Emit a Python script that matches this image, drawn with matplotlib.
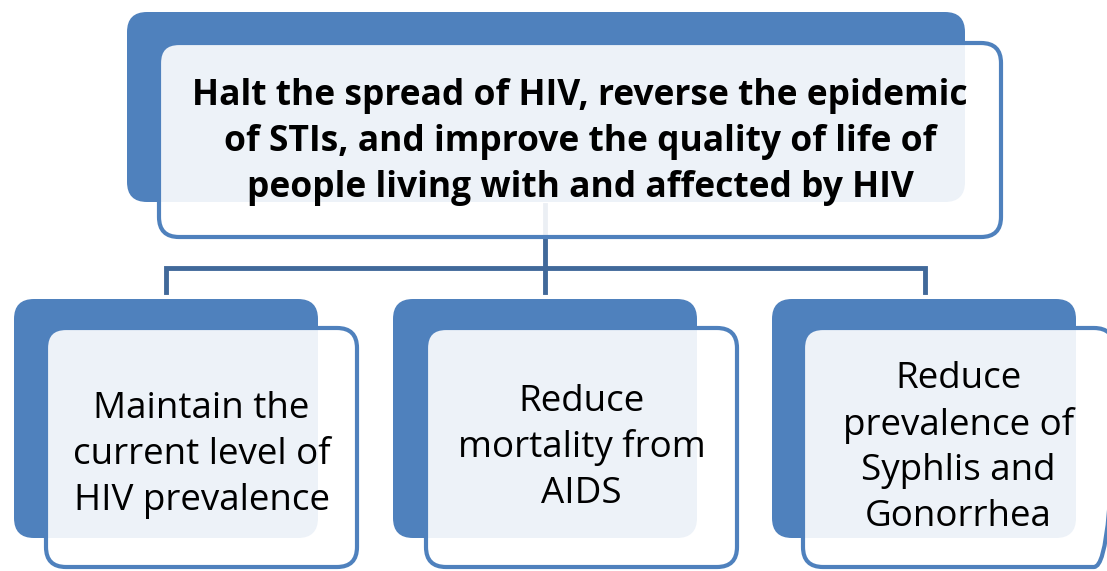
import matplotlib.pyplot as plt
from matplotlib.patches import FancyBboxPatch

top_goal = ["Halt the spread of HIV, reverse the epidemic",
            "of STIs, and improve the quality of life of",
            "people living with and affected by HIV"]
sub_goals = [["Maintain the", "current level of", "HIV prevalence"],
             ["Reduce", "mortality from", "AIDS"],
             ["Reduce", "prevalence of", "Syphlis and", "Gonorrhea"]]

blue = '#4F81BD'
line_col = '#41699A'

fig = plt.figure(figsize=(11.07, 5.71), dpi=100)
ax = fig.add_axes([0, 0, 1, 1])
ax.set_xlim(0, 1107)
ax.set_ylim(571, 0)
ax.axis('off')


def box(ax, x0, y0, x1, y1, fc, ec, lw, alpha=1.0, z=1):
    p = FancyBboxPatch((x0, y0), x1 - x0, y1 - y0,
                       boxstyle='round,pad=0,rounding_size=20',
                       fc=fc, ec=ec, lw=lw, alpha=alpha, zorder=z)
    ax.add_patch(p)


# connectors (drawn under the top front box)
ax.plot([545, 545], [205, 292], color=line_col, lw=3.5, zorder=0.5)
ax.plot([166, 166, 925, 925], [292, 268, 268, 292], color=line_col,
        lw=3.5, zorder=0.5, solid_joinstyle='miter')

# top box
box(ax, 127, 12, 965, 202, blue, 'none', 0, z=1)
box(ax, 159, 43, 1001, 237, 'white', 'none', 0, alpha=0.9, z=2)
box(ax, 159, 43, 1001, 237, 'none', blue, 3, z=3)
for i, s in enumerate(top_goal):
    ax.text(580, 96 + i * 46, s, ha='center', va='center', fontsize=25.5,
            fontweight='bold', family='Open Sans', zorder=4)

# bottom boxes
back_x = [14, 393, 772]
front_x = [46, 426, 803]
text_y = [455, 448, 448]
width_back = 304
width_front = 311
for k, lines in enumerate(sub_goals):
    bx = back_x[k]
    fx = front_x[k]
    box(ax, bx, 299, bx + width_back, 538, blue, 'none', 0, z=1)
    box(ax, fx, 328, fx + width_front, 567, 'white', 'none', 0, alpha=0.9, z=2)
    box(ax, fx, 328, fx + width_front, 567, 'none', blue, 3, z=3)
    n = len(lines)
    cx = fx + width_front / 2
    for i, s in enumerate(lines):
        ax.text(cx, text_y[k] + (i - (n - 1) / 2) * 46, s, ha='center',
                va='center', fontsize=26.5, family='Open Sans', zorder=4)

fig.savefig('out.png', dpi=100)
